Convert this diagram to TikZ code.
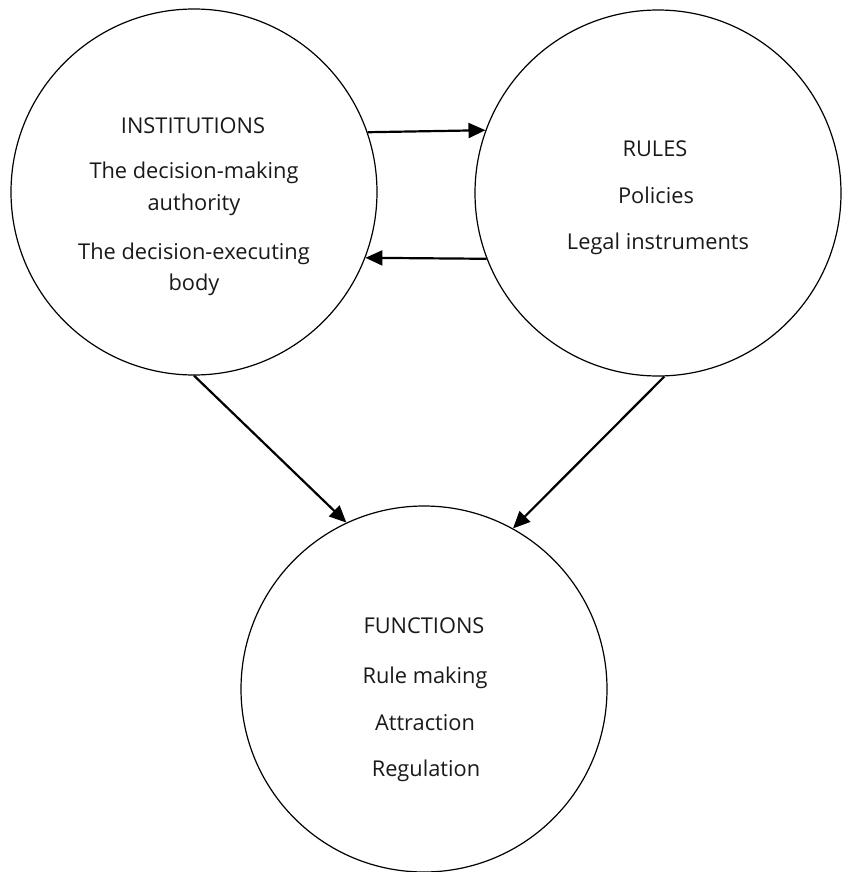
\documentclass[tikz,border=0pt]{standalone}
\usepackage{fontspec}
\setmainfont{Open Sans}
\usetikzlibrary{arrows.meta}
\begin{document}
\begin{tikzpicture}[x=1pt,y=-1pt,
  bigcircle/.style={draw, circle, line width=1.2pt, minimum size=366pt, inner sep=0pt},
  lbl/.style={anchor=base, font=\fontsize{21.8}{24}\selectfont, text=black!90, inner sep=0pt},
  conn/.style={line width=2.2pt, -{Triangle[length=17pt,width=15pt]}}]
\useasboundingbox (0,0) rectangle (847,872);
\node[bigcircle] (inst) at (194,192) {};
\node[bigcircle] (rules) at (658,193) {};
\node[bigcircle] (func) at (424,689) {};
% left texts
\node[lbl] (i1) at (193,133) {INSTITUTIONS};
\node[lbl] (i2) at (194,178) {The decision-making};
\node[lbl] (i3) at (194,210) {authority};
\node[lbl] (i4) at (194,259) {The decision-executing};
\node[lbl] (i5) at (194,290) {body};
% right texts
\node[lbl] (r1) at (655,156) {RULES};
\node[lbl] (r2) at (656,203) {Policies};
\node[lbl] (r3) at (658,249) {Legal instruments};
% bottom texts
\node[lbl] (f1) at (424,633) {FUNCTIONS};
\node[lbl] (f2) at (425,683) {Rule making};
\node[lbl] (f3) at (425,730) {Attraction};
\node[lbl] (f4) at (426,776) {Regulation};
% connectors
\draw[conn] (inst.19.2) -- (rules.160.6);
\draw[conn] (rules.201.1) -- (inst.-21.4);
\draw[conn] (inst.-90) -- (func.115.7);
\draw[conn] (rules.-88.8) -- (func.61.5);
\end{tikzpicture}
\end{document}
